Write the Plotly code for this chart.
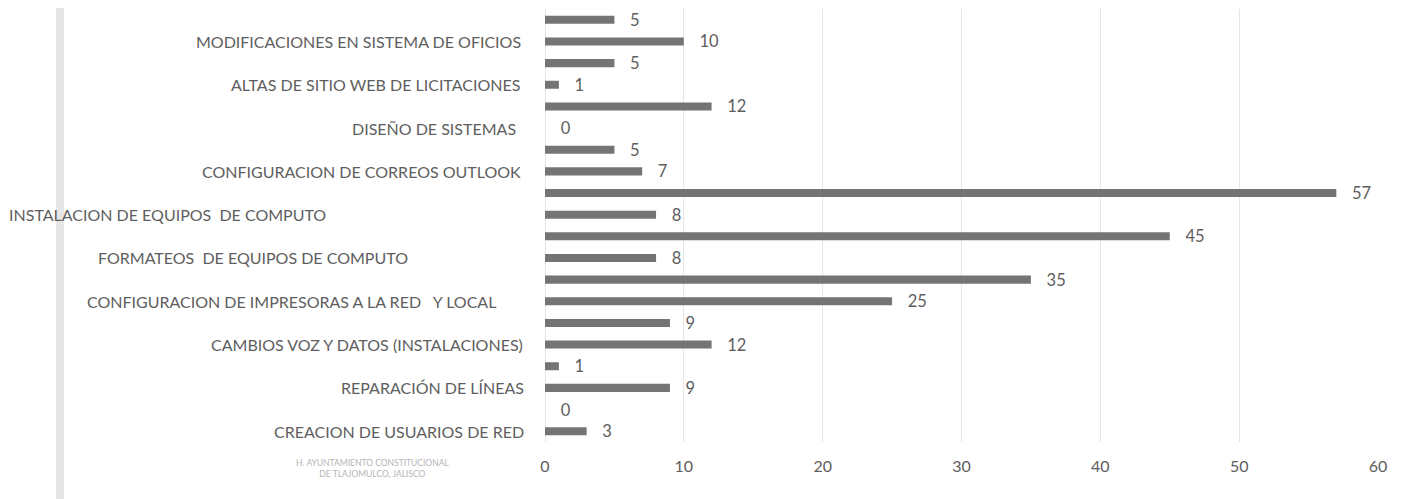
import plotly.graph_objects as go

# Values, bottom-to-top (20 bars; only every other category is labelled)
values = [3, 0, 9, 1, 12, 9, 25, 35, 8, 45, 8, 57, 7, 5, 0, 12, 1, 5, 10, 5]

# Labels for the labelled categories (bar indices 0, 2, 4, ... 18)
labels = [
    "CREACION DE USUARIOS DE RED",
    "REPARACIÓN DE LÍNEAS",
    "CAMBIOS VOZ Y DATOS (INSTALACIONES)",
    "CONFIGURACION DE IMPRESORAS A LA RED\u00a0\u00a0 Y LOCAL",
    "FORMATEOS\u00a0 DE EQUIPOS DE COMPUTO",
    "INSTALACION DE EQUIPOS\u00a0 DE COMPUTO",
    "CONFIGURACION DE CORREOS OUTLOOK",
    "DISEÑO DE SISTEMAS",
    "ALTAS DE SITIO WEB DE LICITACIONES",
    "MODIFICACIONES EN SISTEMA DE OFICIOS",
]
label_idx = [0, 2, 4, 6, 8, 10, 12, 14, 16, 18]

x_ticks = [0, 10, 20, 30, 40, 50, 60]

# layout (pixel geometry; page has an 8px body margin)
OFF = 8
W, H = 1395, 491
ML, MR, MT, MB = 537, 25, 1, 57
PW = W - ML - MR
PH = H - MT - MB
label_right_px = [526, 526, 525, 498, 410, 328, 523, 518, 522, 523]


def px_to_paper_x(px):
    return (px - OFF - ML) / PW


def px_to_paper_y(py):
    return (H - MB - (py - OFF)) / PH


TXT = "#5e5e5e"
FONT = "Lato"

fig = go.Figure()
fig.add_trace(go.Bar(
    x=values,
    y=list(range(len(values))),
    orientation="h",
    marker=dict(color="#747474", line=dict(width=0)),
    text=values,
    texttemplate="\u00a0\u00a0\u00a0%{x}",
    textposition="outside",
    constraintext="none",
    cliponaxis=False,
    textfont=dict(family=FONT, size=16.5, color=TXT),
    hoverinfo="skip",
))

annotations = []
for lab, idx, rpx in zip(labels, label_idx, label_right_px):
    annotations.append(dict(
        x=px_to_paper_x(rpx), xref="paper", y=idx, yref="y",
        text=lab, showarrow=False, xanchor="right", yanchor="middle",
        font=dict(family=FONT, size=16, color=TXT),
    ))

# faint watermark stamp
annotations.append(dict(
    x=px_to_paper_x(372), xref="paper", y=px_to_paper_y(468), yref="paper",
    text="H. AYUNTAMIENTO CONSTITUCIONAL<br>DE TLAJOMULCO, JALISCO",
    showarrow=False, xanchor="center", yanchor="middle",
    font=dict(family=FONT, size=8.5, color="#b5b5b5"),
))

fig.update_layout(
    width=W, height=H,
    margin=dict(l=ML, r=MR, t=MT, b=MB),
    paper_bgcolor="white",
    plot_bgcolor="white",
    showlegend=False,
    bargap=0.63,
    annotations=annotations,
    shapes=[dict(
        type="line", xref="paper", yref="paper",
        x0=px_to_paper_x(60), x1=px_to_paper_x(60),
        y0=px_to_paper_y(505), y1=px_to_paper_y(-5),
        line=dict(color="#e6e6e6", width=8),
    )],
    xaxis=dict(
        range=[0, 60], tickvals=x_ticks,
        showgrid=True, gridcolor="#e6e6e6", gridwidth=1,
        zeroline=True, zerolinecolor="#e6e6e6", zerolinewidth=1,
        showline=False, ticks="", ticklabelstandoff=13,
        tickfont=dict(family=FONT, size=16, color=TXT),
    ),
    yaxis=dict(
        range=[-0.5, len(values) - 0.5],
        showticklabels=False, showgrid=False, zeroline=False, showline=False,
    ),
)

fig.write_html("out.html")
